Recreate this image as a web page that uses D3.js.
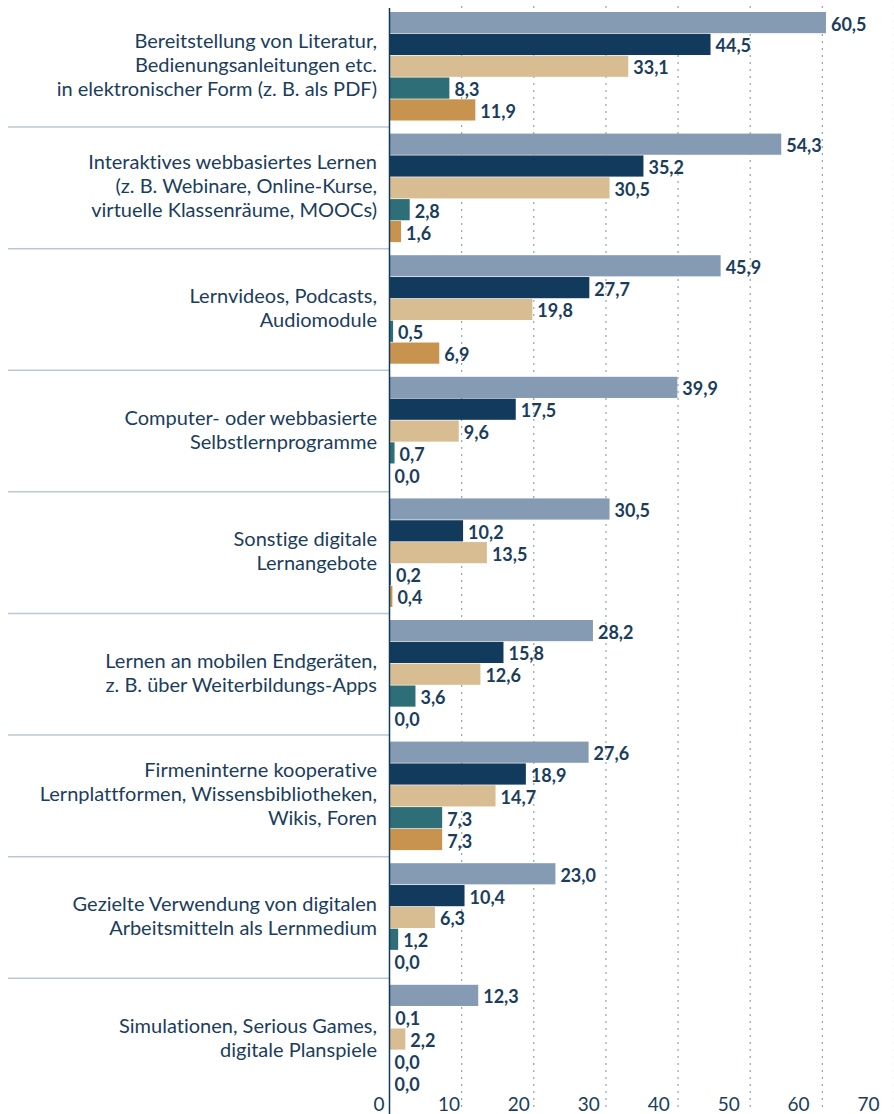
<!DOCTYPE html>
<html>
<head>
<meta charset="utf-8">
<script src="https://cdn.jsdelivr.net/npm/d3@7"></script>
<style>
  body { margin: 0; background: #fff; }
  svg text { font-family: Lato, "Noto Sans", sans-serif; font-variant-ligatures: none; }
</style>
</head>
<body>
<div id="chart"></div>
<script>
var categories = [
  ["Bereitstellung von Literatur,", "Bedienungsanleitungen etc.", "in elektronischer Form (z. B. als PDF)"],
  ["Interaktives webbasiertes Lernen", "(z. B. Webinare, Online-Kurse,", "virtuelle Klassenräume, MOOCs)"],
  ["Lernvideos, Podcasts,", "Audiomodule"],
  ["Computer- oder webbasierte", "Selbstlernprogramme"],
  ["Sonstige digitale", "Lernangebote"],
  ["Lernen an mobilen Endgeräten,", "z. B. über Weiterbildungs-Apps"],
  ["Firmeninterne kooperative", "Lernplattformen, Wissensbibliotheken,", "Wikis, Foren"],
  ["Gezielte Verwendung von digitalen", "Arbeitsmitteln als Lernmedium"],
  ["Simulationen, Serious Games,", "digitale Planspiele"]
];
var series1 = [60.5, 54.3, 45.9, 39.9, 30.5, 28.2, 27.6, 23.0, 12.3];
var series2 = [44.5, 35.2, 27.7, 17.5, 10.2, 15.8, 18.9, 10.4, 0.1];
var series3 = [33.1, 30.5, 19.8, 9.6, 13.5, 12.6, 14.7, 6.3, 2.2];
var series4 = [8.3, 2.8, 0.5, 0.7, 0.2, 3.6, 7.3, 1.2, 0.0];
var series5 = [11.9, 1.6, 6.9, 0.0, 0.4, 0.0, 7.3, 0.0, 0.0];
var xTicks = [0, 10, 20, 30, 40, 50, 60, 70];

var colors = ["#859bb3", "#113a5c", "#d8bd92", "#2e6e77", "#c8934e"];
var textColor = "#1b3d5c";

var width = 894, height = 1114;
var svg = d3.select("#chart").append("svg")
    .attr("width", width)
    .attr("height", height);

var allSeries = [series1, series2, series3, series4, series5];
var data = categories.map(function(c, i) {
  return { id: i, lines: c, values: allSeries.map(function(s) { return s[i]; }) };
});

var x = d3.scaleLinear().domain([0, 70]).range([389.5, 894.5]);
// tick labels sit a bit left of the grid lines in the original
var xLab = d3.scaleLinear().domain([0, 70]).range([378.5, 868]);

var y0 = d3.scaleBand()
    .domain(d3.range(categories.length))
    .range([5.45, 5.45 + 121.6 * categories.length])
    .paddingInner(0.1077)
    .paddingOuter(0.1077 / 2);

var y1 = d3.scaleBand()
    .domain(d3.range(5))
    .range([0, y0.bandwidth()])
    .paddingInner(0.03);

// dotted gridlines
svg.append("g")
    .selectAll("line")
    .data(xTicks.slice(1))
    .enter().append("line")
      .attr("x1", function(d) { return x(d); })
      .attr("x2", function(d) { return x(d); })
      .attr("y1", 6)
      .attr("y2", 1112)
      .attr("stroke", "#8ea2b8")
      .attr("stroke-width", 1.2)
      .attr("stroke-dasharray", "2,5");

// separators between groups
svg.append("g")
    .selectAll("line")
    .data(d3.range(categories.length - 1))
    .enter().append("line")
      .attr("x1", 8)
      .attr("x2", x(0))
      .attr("y1", function(d) { return y0(d) + y0.bandwidth() + y0.step() * 0.1077 / 2; })
      .attr("y2", function(d) { return y0(d) + y0.bandwidth() + y0.step() * 0.1077 / 2; })
      .attr("stroke", "#b9c7d6")
      .attr("stroke-width", 1.5);

var groups = svg.append("g")
    .selectAll("g")
    .data(data)
    .enter().append("g")
      .attr("transform", function(d) { return "translate(0," + y0(d.id) + ")"; });

groups.selectAll("rect")
    .data(function(d) { return d.values; })
    .enter().append("rect")
      .attr("x", x(0))
      .attr("y", function(d, i) { return y1(i); })
      .attr("width", function(d) { return x(d) - x(0); })
      .attr("height", y1.bandwidth())
      .attr("fill", function(d, i) { return colors[i]; });

groups.selectAll("text.val")
    .data(function(d) { return d.values; })
    .enter().append("text")
      .attr("class", "val")
      .attr("x", function(d) { return x(d) + 5; })
      .attr("y", function(d, i) { return y1(i) + y1.bandwidth() / 2 + 8; })
      .style("font-size", "18px")
      .style("font-weight", "bold")
      .style("fill", textColor)
      .text(function(d) { return d.toFixed(1).replace(".", ","); });

// category labels
groups.append("text")
    .attr("text-anchor", "end")
    .style("font-size", "20px")
    .style("fill", textColor)
    .each(function(d) {
      var t = d3.select(this);
      var n = d.lines.length;
      var c = y0.bandwidth() / 2 + 5.5;
      d.lines.forEach(function(l, i) {
        t.append("tspan")
          .attr("x", 377)
          .attr("y", c + (i - (n - 1) / 2) * 24)
          .text(l);
      });
    });

// left axis line
svg.append("line")
    .attr("x1", x(0)).attr("x2", x(0))
    .attr("y1", 8).attr("y2", 1114)
    .attr("stroke", "#113a5c")
    .attr("stroke-width", 1.5);

// x axis labels
var xAxis = svg.append("g")
    .attr("transform", "translate(0,1097)")
    .call(d3.axisBottom(xLab).tickValues(xTicks).tickSize(0).tickPadding(0));
xAxis.select(".domain").remove();
xAxis.selectAll("text")
    .attr("dy", "0.71em")
    .style("font-size", "19px")
    .style("font-family", "Lato, sans-serif")
    .style("fill", textColor);
</script>
</body>
</html>
